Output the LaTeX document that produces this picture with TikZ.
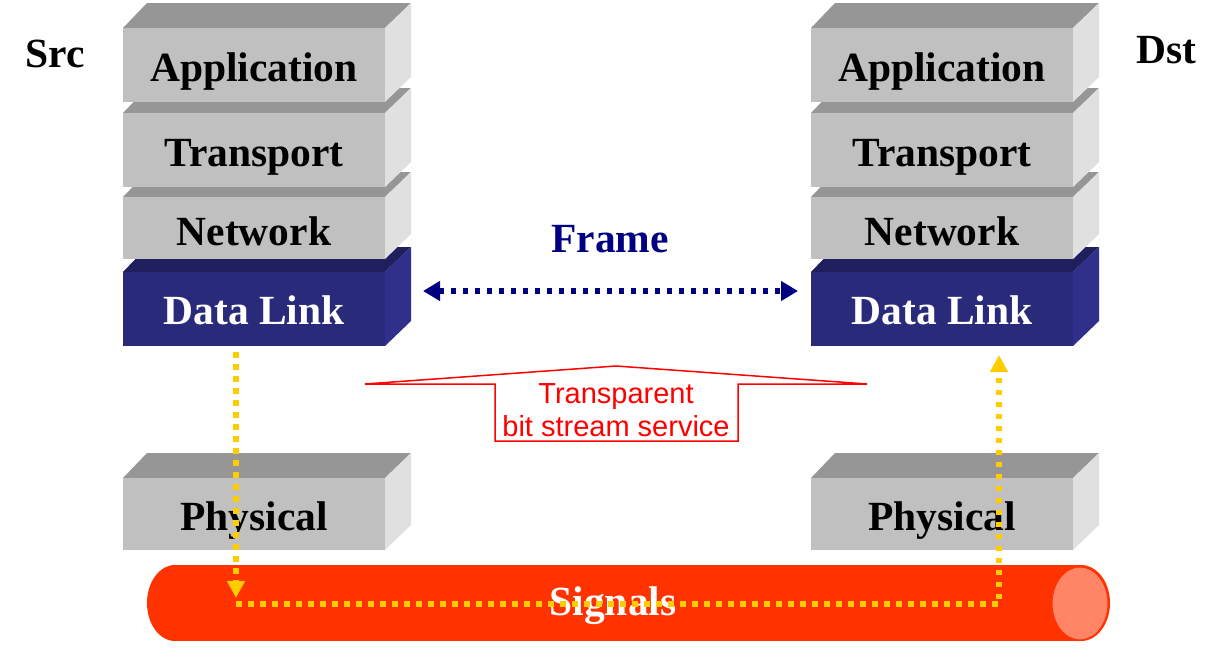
\documentclass[tikz,border=0pt]{standalone}
\usepackage{fontspec}
\setmainfont{Liberation Serif}
\newfontfamily\arialf{Liberation Sans}
\usetikzlibrary{arrows.meta}
\definecolor{frontgray}{HTML}{C0C0C0}
\definecolor{topgray}{HTML}{969696}
\definecolor{sidegray}{HTML}{E0E0E0}
\definecolor{dlfront}{HTML}{2A2A7A}
\definecolor{dltop}{HTML}{1F1F5E}
\definecolor{dlside}{HTML}{30308C}
\definecolor{navyc}{HTML}{000080}
\definecolor{sigred}{HTML}{FF3300}
\definecolor{sigend}{HTML}{FF8566}
\definecolor{ydot}{HTML}{FFCC00}
\definecolor{redc}{HTML}{FF0000}
% #1 x-left, #2 y-top of front, #3 y-bottom of front, #4 front, #5 top, #6 side
\newcommand\layerbox[6]{%
  \fill[#5] (#1,#2) -- (#1+262,#2) -- (#1+288,#2-25) -- (#1+24,#2-25) -- cycle;
  \fill[#6] (#1+262,#2) -- (#1+288,#2-25) -- (#1+288,#3-25) -- (#1+262,#3) -- cycle;
  \fill[#4] (#1,#2) rectangle (#1+262,#3);
}
\tikzset{
  layertext/.style={font=\bfseries\fontsize{41.5}{46}\selectfont, inner sep=0pt, anchor=base},
  redtext/.style={font=\arialf\fontsize{29}{32}\selectfont, text=redc, inner sep=0pt, anchor=base},
  yellowdots/.style={draw=ydot, line width=5.5pt, dash pattern=on 5.5pt off 6.5pt},
  ytip/.style={-{Triangle[width=17pt,length=17pt]}},
  framearrow/.style={draw=navyc, line width=6pt, dash pattern=on 5.5pt off 6.5pt,
    {Triangle[width=19pt,length=17pt]}-{Triangle[width=19pt,length=17pt]}}
}
\begin{document}
\begin{tikzpicture}[x=1pt,y=-1pt]
\useasboundingbox (0,0) rectangle (1220,651);
% ---- stacks
\foreach \xo in {123,811}{
  \layerbox{\xo}{478}{550}{frontgray}{topgray}{sidegray}
  \layerbox{\xo}{272}{346}{dlfront}{dltop}{dlside}
  \layerbox{\xo}{197}{259}{frontgray}{topgray}{sidegray}
  \layerbox{\xo}{113}{187}{frontgray}{topgray}{sidegray}
  \layerbox{\xo}{28}{102}{frontgray}{topgray}{sidegray}
}
% ---- signals cylinder
\fill[sigred] (175,565) rectangle (1081,641);
\fill[sigred] (175,603) ellipse (28 and 38);
\fill[sigred] (1081,603) ellipse (29 and 38);
\filldraw[fill=sigend, draw=sigred, line width=1pt] (1080,603.5) ellipse (28 and 36.5);
% ---- layer labels
\node[layertext] (appS) at (254,81) {Application};
\node[layertext] (trS) at (254,166) {Transport};
\node[layertext] (netS) at (254,245) {Network};
\node[layertext, text=white] (dlS) at (254,324) {Data Link};
\node[layertext] (phS) at (254,530) {Physical};
\node[layertext] (appD) at (942,81) {Application};
\node[layertext] (trD) at (942,166) {Transport};
\node[layertext] (netD) at (942,245) {Network};
\node[layertext, text=white] (dlD) at (942,324) {Data Link};
\node[layertext] (phD) at (942,530) {Physical};
\node[layertext, text=white] (sig) at (613,615) {Signals};
\node[layertext] (src) at (55,67) {Src};
\node[layertext] (dst) at (1166,63) {Dst};
\node[layertext, text=navyc] (frame) at (610,252) {Frame};
% ---- frame arrow
\coordinate (fL) at (423,291);
\coordinate (fR) at (798,291);
\draw[framearrow] (fL) -- (fR);
% ---- transparent bit stream arrow
\draw[draw=redc, line width=1.5pt, fill=white] (365,384) -- (616,366) -- (867,384) -- (738,384) -- (738,441) -- (495,441) -- (495,384) -- cycle;
\node[redtext] (tr1) at (616,403) {Transparent};
\node[redtext] (tr2) at (616,436) {bit stream service};
% ---- yellow dotted path
\coordinate (yS) at (236,352);
\coordinate (yA) at (236,598);
\coordinate (yB) at (236,604);
\coordinate (yC) at (999,604);
\coordinate (yD) at (999,355);
\draw[yellowdots, ytip] (yS) -- (yA);
\draw[yellowdots, ytip] (yB) -- (yC) -- (yD);
\end{tikzpicture}
\end{document}
